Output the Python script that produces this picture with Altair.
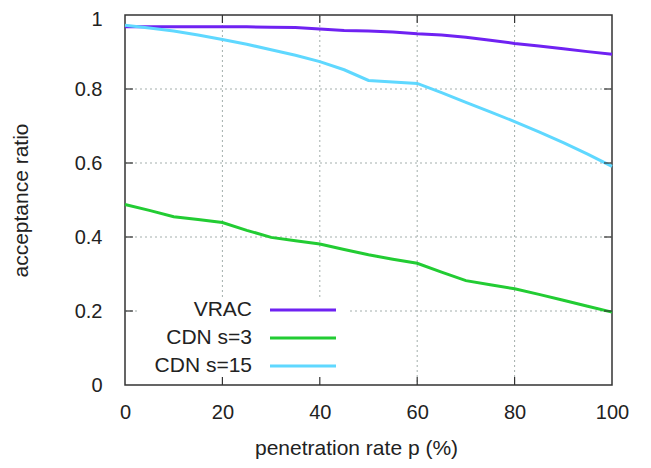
import altair as alt
import pandas as pd

p_values = [0, 5, 10, 15, 20, 25, 30, 35, 40, 45, 50, 55, 60, 65, 70, 75, 80, 85, 90, 95, 100]
vrac = [0.968, 0.968, 0.968, 0.968, 0.968, 0.968, 0.967, 0.966, 0.962, 0.958, 0.957, 0.954, 0.949,
        0.946, 0.940, 0.932, 0.923, 0.916, 0.909, 0.901, 0.894]
cdn3 = [0.488, 0.472, 0.455, 0.447, 0.439, 0.418, 0.399, 0.390, 0.381, 0.366, 0.352, 0.340, 0.329,
        0.305, 0.282, 0.271, 0.260, 0.245, 0.229, 0.213, 0.197]
cdn15 = [0.972, 0.965, 0.957, 0.946, 0.934, 0.921, 0.906, 0.891, 0.874, 0.852, 0.823, 0.819, 0.815,
         0.790, 0.764, 0.738, 0.712, 0.684, 0.655, 0.624, 0.591]

series_names = ["VRAC", "CDN s=3", "CDN s=15"]
series_colors = ["#6f22f2", "#22cc33", "#5fd8ff"]

x_ticks = [0, 20, 40, 60, 80, 100]
y_ticks = [0, 0.2, 0.4, 0.6, 0.8, 1]
x_grid = [20, 40, 60, 80]
y_grid = [0.2, 0.4, 0.6, 0.8]

FONT = "Liberation Sans"
W, H = 487, 370

rows = []
for name, vals in zip(series_names, [vrac, cdn3, cdn15]):
    for p, v in zip(p_values, vals):
        rows.append({"p": p, "ratio": v, "series": name})
df = pd.DataFrame(rows)

xs = alt.Scale(domain=[0, 100], nice=False, zero=False)
ys = alt.Scale(domain=[0, 1], nice=False, zero=False)
cs = alt.Scale(domain=series_names, range=series_colors)

grid_color = "#a3aeac"
grid_dash = [2, 3]

xgrid = alt.Chart(pd.DataFrame({"p": x_grid})).mark_rule(
    color=grid_color, strokeDash=grid_dash, strokeWidth=1
).encode(x=alt.X("p:Q", scale=xs))
ygrid = alt.Chart(pd.DataFrame({"ratio": y_grid})).mark_rule(
    color=grid_color, strokeDash=grid_dash, strokeWidth=1
).encode(y=alt.Y("ratio:Q", scale=ys))

# axes (labels and titles only)
base_axes = alt.Chart(df).mark_point(opacity=0).encode(
    x=alt.X("p:Q", scale=xs, axis=alt.Axis(
        values=x_ticks, grid=False, domain=False, ticks=False, tickSize=0,
        labelFont=FONT, labelFontSize=20, labelColor="#222", labelPadding=17,
        labelFlush=False,
        title="penetration rate p (%)", titleFont=FONT, titleFontSize=21,
        titleFontWeight="normal", titleColor="#222", titleX=231, titleY=63,
        titleBaseline="middle")),
    y=alt.Y("ratio:Q", scale=ys, axis=alt.Axis(
        values=y_ticks, grid=False, domain=False, ticks=False, tickSize=0,
        labelFont=FONT, labelFontSize=20, labelColor="#222", labelPadding=23,
        labelFlush=False, format="~g",
        labelOffset={"condition": {"test": "datum.value == 1", "value": 4}, "value": 0},
        title="acceptance ratio", titleFont=FONT, titleFontSize=21,
        titleFontWeight="normal", titleColor="#222", titleX=-104, titleY=185,
        titleAngle=-90, titleBaseline="middle", titleAlign="center")),
)

# legend opaque box
legend_box = alt.Chart(pd.DataFrame({"a": [0]})).mark_rect(color="white").encode(
    x=alt.value(13), x2=alt.value(225), y=alt.value(282), y2=alt.value(H - 1)
)

lines = alt.Chart(df).mark_line(strokeWidth=3).encode(
    x=alt.X("p:Q", scale=xs),
    y=alt.Y("ratio:Q", scale=ys),
    color=alt.Color("series:N", scale=cs, legend=None),
    detail="series:N",
)

# inward ticks on all four sides
tick_len = 8
xt = pd.DataFrame({"p": x_ticks[1:-1]})
yt = pd.DataFrame({"ratio": y_ticks[1:-1]})
tick_style = dict(color="#333", strokeWidth=1.2)
ticks_bottom = alt.Chart(xt).mark_rule(**tick_style).encode(
    x=alt.X("p:Q", scale=xs), y=alt.value(H), y2=alt.value(H - tick_len))
ticks_top = alt.Chart(xt).mark_rule(**tick_style).encode(
    x=alt.X("p:Q", scale=xs), y=alt.value(0), y2=alt.value(tick_len))
ticks_left = alt.Chart(yt).mark_rule(**tick_style).encode(
    y=alt.Y("ratio:Q", scale=ys), x=alt.value(0), x2=alt.value(tick_len))
ticks_right = alt.Chart(yt).mark_rule(**tick_style).encode(
    y=alt.Y("ratio:Q", scale=ys), x=alt.value(W), x2=alt.value(W - tick_len))

legend_layers = []
row_y = [295, 323, 351]
for name, color, ry in zip(series_names, series_colors, row_y):
    d = pd.DataFrame({"series": [name]})
    legend_layers.append(
        alt.Chart(d).mark_text(align="right", baseline="middle", font=FONT,
                               fontSize=21, color="#222").encode(
            text="series:N", x=alt.value(127), y=alt.value(ry))
    )
    legend_layers.append(
        alt.Chart(d).mark_rule(strokeWidth=3, color=color).encode(
            x=alt.value(145), x2=alt.value(211), y=alt.value(ry))
    )

chart = alt.layer(
    xgrid, ygrid, base_axes, legend_box, lines,
    ticks_bottom, ticks_top, ticks_left, ticks_right, *legend_layers
).properties(
    width=W, height=H,
    autosize=alt.AutoSizeParams(type="none"),
    padding={"left": 117, "top": 7, "right": 31, "bottom": 75},
).configure_view(
    stroke="#333", strokeWidth=1.5
)

chart.save("out.html", embed_options={"renderer": "svg", "actions": False})
